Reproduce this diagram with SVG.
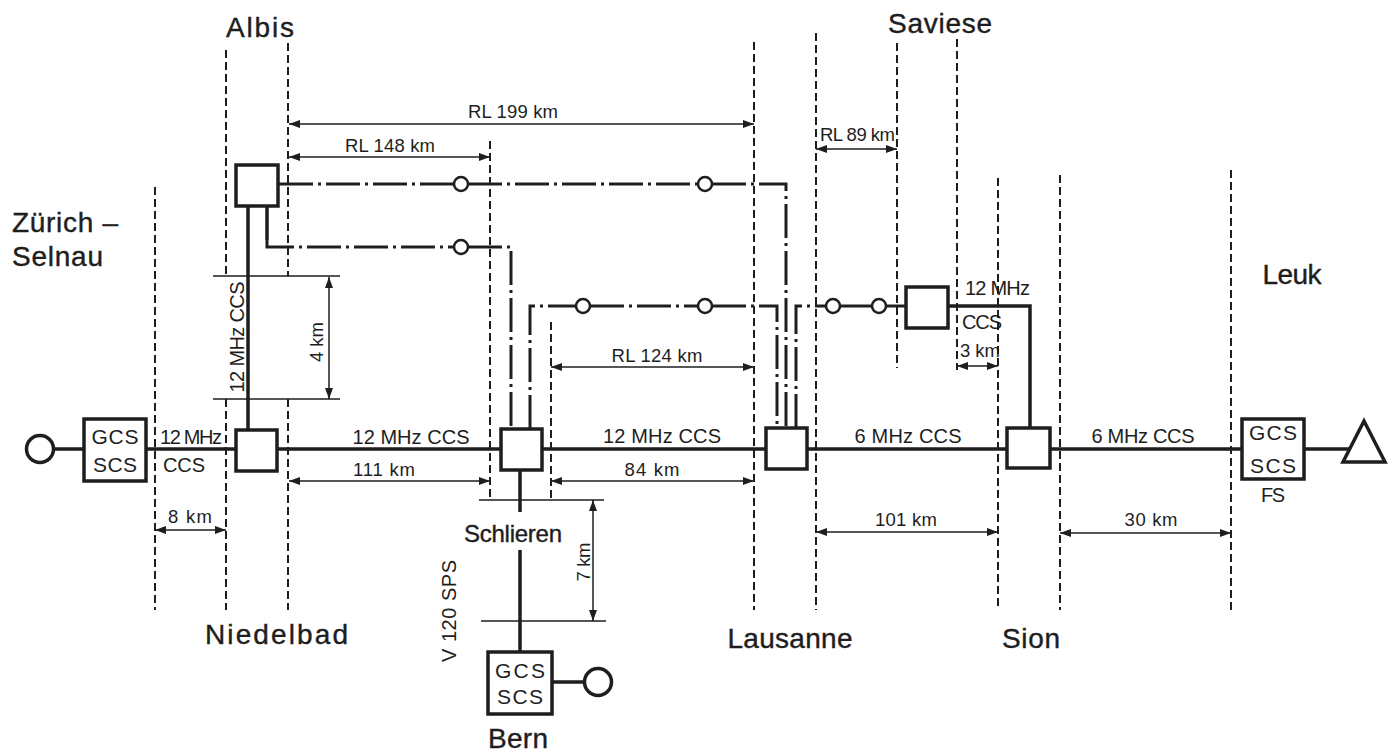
<svg xmlns="http://www.w3.org/2000/svg" width="1396" height="753" viewBox="0 0 1396 753">
<style>
text{font-family:"Liberation Sans","DejaVu Sans",sans-serif;fill:#1e1e1e}
.st{font-size:28px;stroke:#1e1e1e;stroke-width:0.4}
.lb{font-size:20px}
.bt{font-size:21px}
.dm{font-size:18.5px}
.bx{fill:#fff;stroke:#1e1e1e;stroke-width:3.5}
.th{fill:none;stroke:#1e1e1e;stroke-width:3.5}
.dd{fill:none;stroke:#1e1e1e;stroke-width:3;stroke-dasharray:34 5 3 5}
.ds{fill:none;stroke:#1e1e1e;stroke-width:2;stroke-dasharray:8 4}
.dim{fill:none;stroke:#1e1e1e;stroke-width:1.5}
.arr{fill:none;stroke:#1e1e1e;stroke-width:1.5;marker-start:url(#ah);marker-end:url(#ah)}
.rp{fill:#fff;stroke:#1e1e1e;stroke-width:2.5}
.tc{text-anchor:middle}
</style>
<defs>
<marker id="ah" viewBox="0 0 11 8" refX="11" refY="4" markerWidth="11" markerHeight="8" markerUnits="userSpaceOnUse" orient="auto-start-reverse"><path d="M0,0 L11,4 L0,8 z" fill="#1e1e1e"/></marker>
</defs>
<rect width="1396" height="753" fill="#fff"/>

<g id="boundaries">
<path class="ds" d="M155,187V610 M226,50V276 M226,399V610 M288,43V276 M288,399V610 M490,141V500 M551,322V500 M754,42V610 M816,33V610 M897,43V368 M957,39V370 M998,178V610 M1060,175V610 M1231,170V610"/>
<path class="dim" d="M213,276H340 M213,399H340 M479,500H604 M481,621H606"/>
</g>

<g id="connectors">
<path class="th" d="M54,449H84 M146,449H236 M277,449H501 M542,449H766 M807,449H1007 M1050,449H1242 M1304,449H1350"/>
<path class="th" d="M248,205V430 M520,470V512 M520,550V652 M552,682H584 M948,306H1030V428"/>
<path class="th" d="M267,206V240"/>
<path class="dd" d="M279,184H454 M468,184H698 M712,184H786V428"/>
<path class="dd" d="M267,240V247H454 M468,247H511V429"/>
<path class="dd" d="M530,429V306H576 M590,306H698 M712,306H777V428"/>
<path class="dd" d="M796,428V306H826 M840,306H872 M886,306H906"/>
</g>

<g id="repeaters">
<circle class="rp" cx="461" cy="184" r="7"/>
<circle class="rp" cx="705" cy="184" r="7"/>
<circle class="rp" cx="461" cy="247" r="7"/>
<circle class="rp" cx="583" cy="306" r="7"/>
<circle class="rp" cx="705" cy="306" r="7"/>
<circle class="rp" cx="833" cy="306" r="7"/>
<circle class="rp" cx="879" cy="306" r="7"/>
</g>

<g id="dimensions">
<path class="arr" d="M289,124H754"/>
<path class="arr" d="M289,157H490"/>
<path class="arr" d="M816,149H897"/>
<path class="arr" d="M551,367H754"/>
<path class="arr" d="M289,481H490"/>
<path class="arr" d="M551,481H754"/>
<path class="arr" d="M155,530H226"/>
<path class="arr" d="M816,532H998"/>
<path class="arr" d="M1060,533H1231"/>
<path class="arr" d="M957,366H998"/>
<path class="arr" d="M329,277V399"/>
<path class="arr" d="M593,500V621"/>
<text class="dm tc" x="513" y="118" textLength="90">RL 199 km</text>
<text class="dm tc" x="390" y="152" textLength="90">RL 148 km</text>
<text class="dm" x="820" y="141" textLength="75">RL 89 km</text>
<text class="dm tc" x="657" y="362" textLength="91">RL 124 km</text>
<text class="dm tc" x="384" y="476" textLength="62">111 km</text>
<text class="dm tc" x="652" y="476" textLength="55">84 km</text>
<text class="dm tc" x="190" y="523" textLength="44">8 km</text>
<text class="dm tc" x="906" y="526" textLength="62">101 km</text>
<text class="dm tc" x="1151" y="526" textLength="53">30 km</text>
<text class="dm" x="960" y="357" textLength="40">3 km</text>
<text class="dm tc" transform="translate(323,342) rotate(-90)" textLength="40">4 km</text>
<text class="dm tc" transform="translate(590,562) rotate(-90)" textLength="39">7 km</text>
</g>

<g id="node-zurich">
<circle cx="40" cy="449" r="13.5" fill="#fff" stroke="#1e1e1e" stroke-width="3.5"/>
<rect class="bx" x="84" y="419" width="62" height="62"/>
<text class="bt tc" x="115" y="444" textLength="47">GCS</text>
<text class="bt tc" x="115" y="472" textLength="44">SCS</text>
<text class="st" x="12" y="232" textLength="106">Zürich –</text>
<text class="st" x="12" y="266" textLength="91">Selnau</text>
</g>

<g id="node-niedelbad">
<rect class="bx" x="236" y="430" width="41" height="41"/>
<text class="st" x="205" y="644" textLength="143">Niedelbad</text>
<text class="lb" x="160" y="444" textLength="62">12 MHz</text>
<text class="lb" x="163" y="472" textLength="42">CCS</text>
<text class="lb tc" transform="translate(244,337) rotate(-90)" textLength="111">12 MHz CCS</text>
</g>

<g id="node-albis">
<rect class="bx" x="236" y="165" width="42" height="41"/>
<text class="st tc" x="260" y="37" textLength="68">Albis</text>
</g>

<g id="node-schlieren">
<rect class="bx" x="501" y="429" width="41" height="41"/>
<text class="st tc" x="513" y="542" style="font-size:24px" textLength="98">Schlieren</text>
<text class="lb tc" x="411" y="444" textLength="117">12 MHz CCS</text>
<text class="lb tc" transform="translate(456,611) rotate(-90)" textLength="102">V 120  SPS</text>
</g>

<g id="node-bern">
<rect class="bx" x="488" y="652" width="64" height="62"/>
<text class="bt tc" x="520" y="678" textLength="50">GCS</text>
<text class="bt tc" x="520" y="704" textLength="46">SCS</text>
<circle cx="598" cy="682" r="13.5" fill="#fff" stroke="#1e1e1e" stroke-width="3.5"/>
<text class="st tc" x="518" y="748" textLength="60">Bern</text>
</g>

<g id="node-lausanne">
<rect class="bx" x="766" y="428" width="41" height="41"/>
<text class="st tc" x="790" y="648" textLength="125">Lausanne</text>
<text class="lb tc" x="662" y="443" textLength="118">12 MHz  CCS</text>
</g>

<g id="node-saviese">
<rect class="bx" x="906" y="287" width="42" height="41"/>
<text class="st tc" x="940" y="33" textLength="104">Saviese</text>
<text class="lb" x="965" y="295" textLength="65">12 MHz</text>
<text class="lb" x="962" y="329" textLength="40">CCS</text>
</g>

<g id="node-sion">
<rect class="bx" x="1007" y="428" width="43" height="40"/>
<text class="st tc" x="1031" y="648" textLength="58">Sion</text>
<text class="lb tc" x="908" y="443" textLength="107">6 MHz CCS</text>
</g>

<g id="node-leuk">
<rect class="bx" x="1242" y="419" width="62" height="60"/>
<text class="bt tc" x="1273" y="440" textLength="48">GCS</text>
<text class="bt tc" x="1273" y="473" textLength="46">SCS</text>
<text class="lb tc" x="1273" y="502" textLength="24">FS</text>
<polygon points="1343,462 1385,462 1364,421" fill="#fff" stroke="#1e1e1e" stroke-width="3.5" stroke-linejoin="miter"/>
<text class="st tc" x="1292" y="284" textLength="59">Leuk</text>
<text class="lb tc" x="1143" y="443" textLength="103">6 MHz CCS</text>
</g>
</svg>
